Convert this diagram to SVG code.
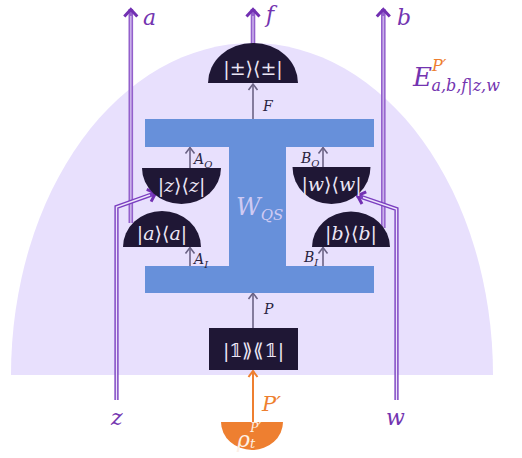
<svg xmlns="http://www.w3.org/2000/svg" width="522" height="458" viewBox="0 0 522 458">
<style>
.bg{fill:#e8e0fd}
.node{fill:#1f1735}
.blue{fill:#6790da}
.nt{font-family:"DejaVu Serif","Liberation Serif",serif;font-size:19px;fill:#ece6f6;text-anchor:middle}
.it{font-style:italic}
.lbl{font-family:"DejaVu Serif","Liberation Serif",serif;font-style:italic;fill:#7334b0}
.gl{font-family:"DejaVu Serif","Liberation Serif",serif;font-style:italic;fill:#2a2440;font-size:14px}
.gray{stroke:#6b6385;stroke-width:1.6;fill:none}
.dout{stroke:#7a3ec0;stroke-width:4.2;fill:none}
.din{stroke:#ece4fb;stroke-width:1.4;fill:none}
.vout{stroke:#9360cc;stroke-width:4.6;fill:none}
.vin{stroke:#c9b0ea;stroke-width:1.6;fill:none}
</style>
<defs>
<marker id="pa" markerUnits="userSpaceOnUse" markerWidth="16" markerHeight="16" refX="11" refY="8" orient="auto"><path d="M3.5,1.5 L10.5,8 L3.5,14.5" fill="none" stroke="#7230b2" stroke-width="3"/></marker>
<marker id="ga" markerUnits="userSpaceOnUse" markerWidth="12" markerHeight="12" refX="8" refY="6" orient="auto"><path d="M2,1.5 L8,6 L2,10.5" fill="none" stroke="#6b6385" stroke-width="1.6"/></marker>
<marker id="oa" markerUnits="userSpaceOnUse" markerWidth="12" markerHeight="12" refX="8" refY="6" orient="auto"><path d="M2,1.5 L8,6 L2,10.5" fill="none" stroke="#ee7f30" stroke-width="2"/></marker>
</defs>

<path class="bg" d="M11,375 A241,332 0 0 1 493,375 Z"/>

<g id="connectors">
  <path class="vout" d="M130.8,223 L130.8,9" marker-end="url(#pa)"/>
  <path class="vin" d="M130.8,223 L130.8,16"/>
  <path class="vout" d="M253,44 L253,9" marker-end="url(#pa)"/>
  <path class="vin" d="M253,44 L253,16"/>
  <path class="vout" d="M383.3,228 L383.3,9" marker-end="url(#pa)"/>
  <path class="vin" d="M383.3,228 L383.3,16"/>
  <path class="dout" d="M116.5,400 L116.5,207 L156,193" marker-end="url(#pa)"/>
  <path class="din" d="M116.5,400 L116.5,207 L150,195"/>
  <path class="dout" d="M396.5,400 L396.5,209 L357,195.5" marker-end="url(#pa)"/>
  <path class="din" d="M396.5,400 L396.5,209 L363,197.5"/>
  <path class="gray" d="M253,119 L253,84" marker-end="url(#ga)"/>
  <path class="gray" d="M190,168 L190,147.5" marker-end="url(#ga)"/>
  <path class="gray" d="M190,266 L190,247.5" marker-end="url(#ga)"/>
  <path class="gray" d="M323,167 L323,147.5" marker-end="url(#ga)"/>
  <path class="gray" d="M323,266 L323,247.5" marker-end="url(#ga)"/>
  <path class="gray" d="M253,328 L253,293" marker-end="url(#ga)"/>
  <path d="M253,422 L253,371" stroke="#ee7f30" stroke-width="2" fill="none" marker-end="url(#oa)"/>
</g>

<g id="W_QS">
  <rect class="blue" x="145" y="119" width="229" height="28"/>
  <rect class="blue" x="229" y="146" width="57" height="121"/>
  <rect class="blue" x="145" y="266" width="229" height="27"/>
  <text x="236" y="215" font-family="DejaVu Serif, serif" font-style="italic" font-size="24" fill="#cfcaf3">W<tspan font-size="15" dy="5">QS</tspan></text>
</g>

<g id="pm">
  <path class="node" d="M208,83 A45,40 0 0 1 298,83 Z"/>
  <text class="nt" x="253" y="75">|±⟩⟨±|</text>
</g>

<g id="z">
  <path class="node" d="M142,168 L221,168 A39.5,36 0 0 1 142,168 Z"/>
  <text class="nt" x="181.5" y="192">|<tspan class="it">z</tspan>⟩⟨<tspan class="it">z</tspan>|</text>
</g>

<g id="a">
  <path class="node" d="M123,247 A39,36 0 0 1 201,247 Z"/>
  <text class="nt" x="162" y="240">|<tspan class="it">a</tspan>⟩⟨<tspan class="it">a</tspan>|</text>
</g>

<g id="w">
  <path class="node" d="M292.5,167 L370.5,167 A39,37 0 0 1 292.5,167 Z"/>
  <text class="nt" x="331.5" y="191">|<tspan class="it">w</tspan>⟩⟨<tspan class="it">w</tspan>|</text>
</g>

<g id="b">
  <path class="node" d="M312,247 A39,35.5 0 0 1 390,247 Z"/>
  <text class="nt" x="351" y="240">|<tspan class="it">b</tspan>⟩⟨<tspan class="it">b</tspan>|</text>
</g>

<g id="id">
  <rect class="node" x="209" y="328" width="89" height="42"/>
  <text class="nt" x="253.5" y="357">|𝟙⟫⟪𝟙|</text>
</g>

<g id="rho">
  <path d="M221,422 L283,422 A31,28 0 0 1 221,422 Z" fill="#ee7f30"/>
  <text x="237" y="447" font-family="DejaVu Serif, serif" font-style="italic" font-size="22" fill="#fdf0e6">ρ<tspan font-size="13" dy="1">t</tspan><tspan font-size="12" dx="-5" dy="-16">P′</tspan></text>
</g>

<g id="labels">
  <text class="lbl" x="143" y="25" font-size="22">a</text>
  <text class="lbl" x="266" y="22" font-size="22">f</text>
  <text class="lbl" x="397" y="25" font-size="22">b</text>
  <text class="lbl" x="111" y="425" font-size="22">z</text>
  <text class="lbl" x="386" y="425" font-size="22">w</text>
  <text x="262" y="411" font-family="DejaVu Serif, serif" font-style="italic" font-size="21" fill="#ee7f30">P′</text>
  <text class="gl" x="263" y="111">F</text>
  <text class="gl" x="264" y="314">P</text>
  <text class="gl" x="194" y="164">A<tspan font-size="10" dy="4">O</tspan></text>
  <text class="gl" x="194" y="264">A<tspan font-size="10" dy="4">I</tspan></text>
  <text class="gl" x="301" y="163">B<tspan font-size="10" dy="4">O</tspan></text>
  <text class="gl" x="304" y="262">B<tspan font-size="10" dy="4">I</tspan></text>
  <text class="lbl" x="413" y="86" font-size="26">E<tspan font-size="16" dy="-15" fill="#ee7f30">P′</tspan><tspan font-size="16" dx="-15" dy="20">a,b,f|z,w</tspan></text>
</g>
</svg>
